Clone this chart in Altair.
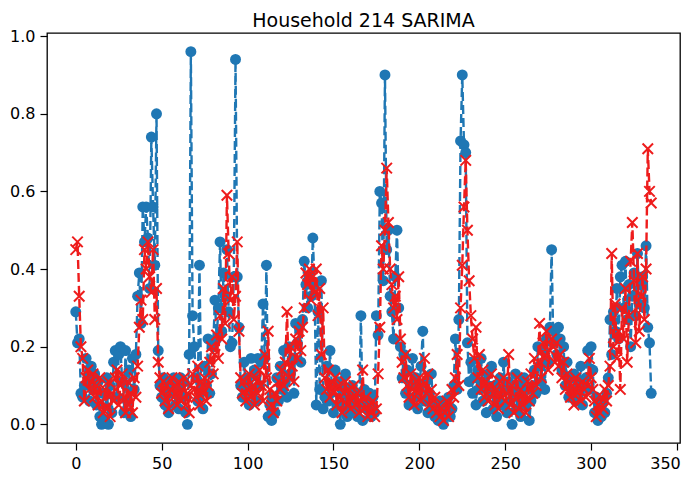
import altair as alt
import pandas as pd

TITLE = "Household 214 SARIMA"
X_TICKS = [0, 50, 100, 150, 200, 250, 300, 350]
Y_TICKS = [0.0, 0.2, 0.4, 0.6, 0.8, 1.0]

actual = [
    0.29, 0.21, 0.22, 0.08, 0.07, 0.10, 0.17, 0.12, 0.06, 0.15,
    0.09, 0.13, 0.05, 0.11, 0.02, 0.00, 0.08, 0.01, 0.12, 0.00,
    0.10, 0.03, 0.16, 0.19, 0.07, 0.18, 0.20, 0.11, 0.03, 0.19,
    0.06, 0.14, 0.02, 0.17, 0.09, 0.18, 0.33, 0.39, 0.26, 0.56,
    0.47, 0.56, 0.48, 0.35, 0.74, 0.56, 0.41, 0.80, 0.19, 0.10,
    0.07, 0.12, 0.05, 0.09, 0.03, 0.11, 0.08, 0.12, 0.05, 0.10,
    0.04, 0.12, 0.07, 0.11, 0.03, 0.00, 0.18, 0.96, 0.28, 0.20,
    0.12, 0.06, 0.41, 0.09, 0.04, 0.15, 0.10, 0.22, 0.08, 0.13,
    0.20, 0.32, 0.22, 0.30, 0.47, 0.24, 0.39, 0.33, 0.45, 0.29,
    0.20, 0.21, 0.38, 0.94, 0.38, 0.25, 0.10, 0.07, 0.16, 0.09,
    0.12, 0.05, 0.17, 0.08, 0.14, 0.06, 0.17, 0.10, 0.16, 0.31,
    0.17, 0.41, 0.02, 0.05, 0.01, 0.07, 0.03, 0.12, 0.06, 0.15,
    0.09, 0.19, 0.11, 0.07, 0.20, 0.13, 0.17, 0.08, 0.26, 0.21,
    0.25, 0.16, 0.27, 0.42, 0.36, 0.30, 0.38, 0.33, 0.48, 0.36,
    0.05, 0.29, 0.09, 0.37, 0.04, 0.07, 0.15, 0.06, 0.19, 0.10,
    0.03, 0.14, 0.05, 0.11, 0.00, 0.09, 0.04, 0.13, 0.02, 0.07,
    0.06, 0.10, 0.03, 0.08, 0.02, 0.05, 0.28, 0.01, 0.09, 0.06,
    0.04, 0.08, 0.02, 0.07, 0.03, 0.28, 0.23, 0.60, 0.57, 0.37,
    0.90, 0.45, 0.50, 0.33, 0.29, 0.22, 0.38, 0.50, 0.30, 0.20,
    0.12, 0.18, 0.08, 0.14, 0.05, 0.10, 0.17, 0.07, 0.12, 0.04,
    0.09, 0.15, 0.24, 0.06, 0.11, 0.03, 0.08, 0.13, 0.05, 0.02,
    0.04, 0.01, 0.06, 0.02, 0.00, 0.05, 0.03, 0.07, 0.02, 0.04,
    0.10, 0.22, 0.09, 0.27, 0.73, 0.90, 0.72, 0.70, 0.21, 0.11,
    0.16, 0.08, 0.12, 0.05, 0.14, 0.09, 0.17, 0.06, 0.11, 0.03,
    0.13, 0.08, 0.15, 0.04, 0.10, 0.02, 0.07, 0.12, 0.05, 0.16,
    0.09, 0.03, 0.11, 0.06, 0.00, 0.08, 0.13, 0.04, 0.10, 0.02,
    0.07, 0.12, 0.05, 0.09, 0.01, 0.06, 0.10, 0.14, 0.08, 0.20,
    0.15, 0.11, 0.19, 0.09, 0.22, 0.16, 0.25, 0.45, 0.21, 0.24,
    0.18, 0.25, 0.22, 0.14, 0.20, 0.10, 0.16, 0.07, 0.12, 0.09,
    0.13, 0.06, 0.11, 0.08, 0.15, 0.05, 0.10, 0.12, 0.19, 0.09,
    0.20, 0.14, 0.03, 0.07, 0.01, 0.05, 0.02, 0.06, 0.03, 0.08,
    0.12, 0.27, 0.18, 0.29, 0.24, 0.35, 0.22, 0.38, 0.41, 0.30,
    0.42, 0.27, 0.36, 0.20, 0.33, 0.39, 0.28, 0.44, 0.31, 0.36,
    0.38, 0.30, 0.46, 0.25, 0.21, 0.08,
]

predicted = [
    0.45, 0.47, 0.33, 0.20, 0.17, 0.06, 0.12, 0.14, 0.09, 0.11,
    0.13, 0.07, 0.10, 0.05, 0.12, 0.06, 0.03, 0.09, 0.04, 0.11,
    0.02, 0.08, 0.06, 0.12, 0.14, 0.05, 0.10, 0.13, 0.07, 0.03,
    0.11, 0.05, 0.08, 0.03, 0.12, 0.07, 0.15, 0.25, 0.32, 0.27,
    0.45, 0.40, 0.47, 0.38, 0.34, 0.45, 0.27, 0.35, 0.16, 0.12,
    0.08, 0.11, 0.06, 0.10, 0.04, 0.09, 0.12, 0.07, 0.10, 0.05,
    0.11, 0.06, 0.09, 0.12, 0.05, 0.08, 0.03, 0.10, 0.13, 0.09,
    0.07, 0.15, 0.05, 0.11, 0.08, 0.12, 0.06, 0.10, 0.16, 0.20,
    0.13, 0.18, 0.23, 0.17, 0.28, 0.22, 0.35, 0.26, 0.59, 0.44,
    0.32, 0.38, 0.27, 0.33, 0.47, 0.24, 0.12, 0.08, 0.11, 0.06,
    0.09, 0.13, 0.07, 0.10, 0.05, 0.12, 0.08, 0.14, 0.10, 0.06,
    0.18, 0.12, 0.24, 0.09, 0.05, 0.03, 0.08, 0.06, 0.11, 0.09,
    0.14, 0.10, 0.16, 0.29, 0.12, 0.20, 0.15, 0.11, 0.22, 0.17,
    0.24, 0.19, 0.25, 0.30, 0.39, 0.36, 0.40, 0.32, 0.38, 0.34,
    0.40, 0.28, 0.35, 0.18, 0.30, 0.12, 0.09, 0.14, 0.07, 0.11,
    0.08, 0.12, 0.05, 0.10, 0.07, 0.03, 0.08, 0.11, 0.05, 0.09,
    0.04, 0.07, 0.10, 0.05, 0.08, 0.03, 0.06, 0.14, 0.04, 0.07,
    0.02, 0.05, 0.03, 0.06, 0.02, 0.04, 0.13, 0.25, 0.46, 0.40,
    0.50, 0.66, 0.52, 0.40, 0.36, 0.30, 0.33, 0.27, 0.38, 0.22,
    0.16, 0.12, 0.18, 0.10, 0.07, 0.13, 0.09, 0.05, 0.11, 0.08,
    0.12, 0.06, 0.10, 0.17, 0.08, 0.13, 0.05, 0.09, 0.04, 0.07,
    0.03, 0.05, 0.02, 0.04, 0.01, 0.03, 0.06, 0.02, 0.05, 0.09,
    0.07, 0.12, 0.18, 0.10, 0.30, 0.41, 0.56, 0.68, 0.50, 0.37,
    0.28, 0.22, 0.17, 0.25, 0.12, 0.18, 0.09, 0.14, 0.07, 0.11,
    0.06, 0.10, 0.13, 0.08, 0.05, 0.09, 0.04, 0.11, 0.07, 0.12,
    0.06, 0.08, 0.18, 0.05, 0.10, 0.03, 0.07, 0.12, 0.04, 0.09,
    0.05, 0.08, 0.03, 0.11, 0.06, 0.13, 0.08, 0.17, 0.10, 0.15,
    0.26, 0.12, 0.21, 0.17, 0.24, 0.14, 0.19, 0.22, 0.20, 0.16,
    0.21, 0.15, 0.18, 0.12, 0.16, 0.09, 0.13, 0.11, 0.07, 0.10,
    0.05, 0.12, 0.08, 0.10, 0.06, 0.11, 0.09, 0.07, 0.10, 0.17,
    0.12, 0.09, 0.06, 0.02, 0.05, 0.03, 0.07, 0.04, 0.09, 0.06,
    0.10, 0.15, 0.44, 0.20, 0.31, 0.17, 0.24, 0.09, 0.30, 0.22,
    0.35, 0.16, 0.28, 0.42, 0.52, 0.37, 0.21, 0.44, 0.24, 0.33,
    0.38, 0.27, 0.40, 0.71, 0.60, 0.57,
]

BLUE = "#1f77b4"
RED = "#ee1c1c"

df_a = pd.DataFrame({"t": list(range(len(actual))), "v": actual})
df_p = pd.DataFrame({"t": list(range(len(predicted))), "v": predicted})

x = alt.X("t:Q", scale=alt.Scale(domain=[-16.75, 351.75], nice=False, zero=False),
          axis=alt.Axis(values=X_TICKS, title=None, format="d",
                        labelOffset={"condition": {"test": "datum.value == 350", "value": -12}, "value": 0}))
y = alt.Y("v:Q", scale=alt.Scale(domain=[-0.048, 1.008], nice=False, zero=False),
          axis=alt.Axis(values=Y_TICKS, title=None, format=".1f"))

blue_line = alt.Chart(df_a).mark_line(color=BLUE, strokeDash=[9, 4], strokeWidth=2.4).encode(x=x, y=y)
blue_pts = alt.Chart(df_a).mark_point(shape="circle", filled=True, size=120, color=BLUE, opacity=1).encode(x=x, y=y)
red_line = alt.Chart(df_p).mark_line(color=RED, strokeDash=[9, 4], strokeWidth=2.4).encode(x=x, y=y)
red_pts = alt.Chart(df_p).mark_point(shape="M-1,-1L1,1M-1,1L1,-1", filled=False, size=110,
                                     strokeWidth=2, color=RED, opacity=1).encode(x=x, y=y)

chart = alt.layer(blue_line, blue_pts, red_line, red_pts).properties(
    width=633, height=410,
    padding={"left": 39, "top": 25, "right": 2, "bottom": 28},
    autosize=alt.AutoSizeParams(type="none"),
    background="white",
    title=alt.TitleParams(TITLE, fontSize=19, font="DejaVu Sans", fontWeight="normal",
                          offset=-3, color="black", anchor="middle", frame="group"),
).configure_view(stroke="black", strokeWidth=1.3).configure_axis(
    labelFont="DejaVu Sans", labelFontSize=16, labelColor="black",
    tickColor="black", tickSize=7, tickWidth=1.2, labelPadding=5,
    domain=False, grid=False,
)

chart.save("out.html", embed_options={"renderer": "svg", "actions": False})
